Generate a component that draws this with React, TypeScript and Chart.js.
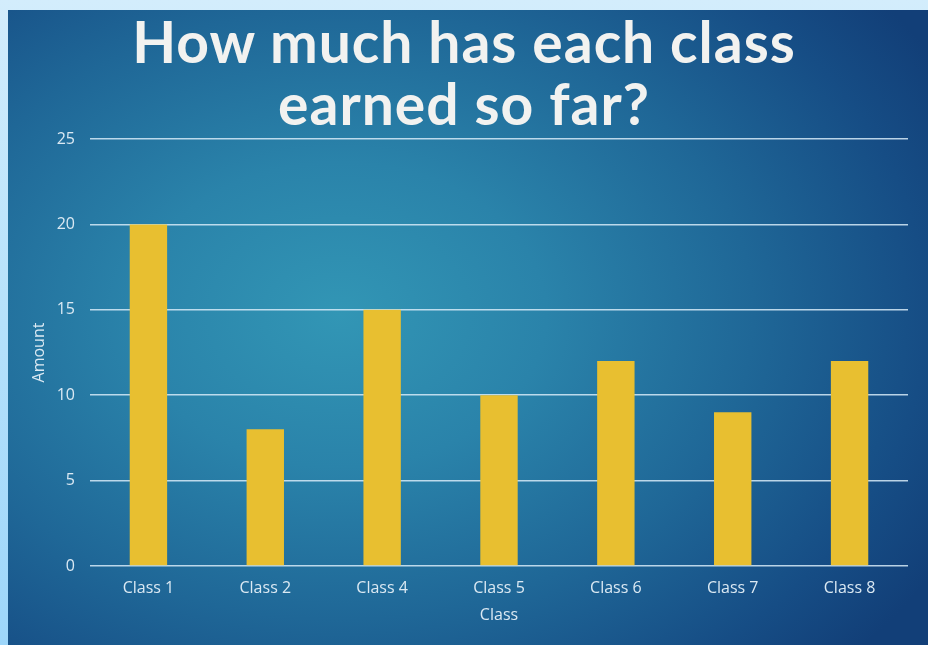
import React, { useEffect, useRef } from "react";
import { Chart, registerables } from "chart.js";

Chart.register(...registerables);

const categories = ["Class 1", "Class 2", "Class 4", "Class 5", "Class 6", "Class 7", "Class 8"];
const amounts = [20, 8, 15, 10, 12, 9, 12];
const titleLines = ["How much has each class", "earned so far?"];
const yTitle = "Amount";
const xTitle = "Class";

const tickFont = { family: "'Open Sans', 'DejaVu Sans', sans-serif", size: 16 };
const labelColor = "#dbe9f3";

export default function App() {
  const canvasRef = useRef<HTMLCanvasElement | null>(null);

  useEffect(() => {
    const canvas = canvasRef.current;
    if (!canvas) return;
    const chart = new Chart(canvas, {
      type: "bar",
      data: {
        labels: categories,
        datasets: [
          {
            label: "Amount",
            data: amounts,
            backgroundColor: "#e8bf30",
            borderWidth: 0,
            categoryPercentage: 1,
            barPercentage: 0.32,
          },
        ],
      },
      options: {
        responsive: false,
        animation: false,
        layout: { padding: { top: 129, right: 20, left: 0, bottom: 0 } },
        plugins: {
          legend: { display: false },
          tooltip: { enabled: false },
          title: { display: false },
        },
        scales: {
          x: {
            grid: { display: false, drawTicks: false },
            border: { display: false },
            ticks: { color: labelColor, font: tickFont, padding: 13, maxRotation: 0 },
            title: {
              display: true,
              text: xTitle,
              color: labelColor,
              font: { ...tickFont, size: 16 },
              padding: { top: 0, bottom: 20 },
            },
            afterFit: (scale: any) => {
              scale.height = 79;
            },
          },
          y: {
            min: 0,
            max: 25,
            ticks: { stepSize: 5, color: labelColor, font: tickFont, padding: 15 },
            grid: { color: "rgba(215,235,248,0.85)", lineWidth: 1.5, drawTicks: false },
            border: { display: false },
            title: {
              display: true,
              text: yTitle,
              color: labelColor,
              font: { ...tickFont, size: 16 },
              padding: { top: 22, bottom: 0 },
            },
            afterFit: (scale: any) => {
              scale.width = 82;
            },
          },
        },
      },
    });
    return () => chart.destroy();
  }, []);

  return (
    <div
      style={{
        position: "fixed",
        left: 0,
        top: 0,
        width: 928,
        height: 645,
        background: "linear-gradient(to bottom, #d3edfc 0%, #b5e1fb 50%, #9dd6fa 100%)",
        overflow: "hidden",
      }}
    >
      <div
        style={{
          position: "absolute",
          left: 8,
          top: 10,
          width: 920,
          height: 635,
          background:
            "radial-gradient(ellipse 75% 80% at 36% 48%, #3296b5 0%, #2a83aa 30%, #1f6797 60%, #164d85 85%, #123f78 100%)",
        }}
      >
        <canvas ref={canvasRef} width={920} height={635} style={{ position: "absolute", left: 0, top: 0 }} />
        <div
          style={{
            position: "absolute",
            left: 0,
            top: 0,
            width: 912,
            textAlign: "center",
            color: "#f2f2f0",
            fontFamily: "Lato, 'Open Sans', sans-serif",
            fontWeight: 700,
            fontSize: 57,
            lineHeight: "62px",
            paddingTop: 0,
            letterSpacing: 1,
            pointerEvents: "none",
          }}
        >
          <div>{titleLines[0]}</div>
          <div>{titleLines[1]}</div>
        </div>
      </div>
    </div>
  );
}
